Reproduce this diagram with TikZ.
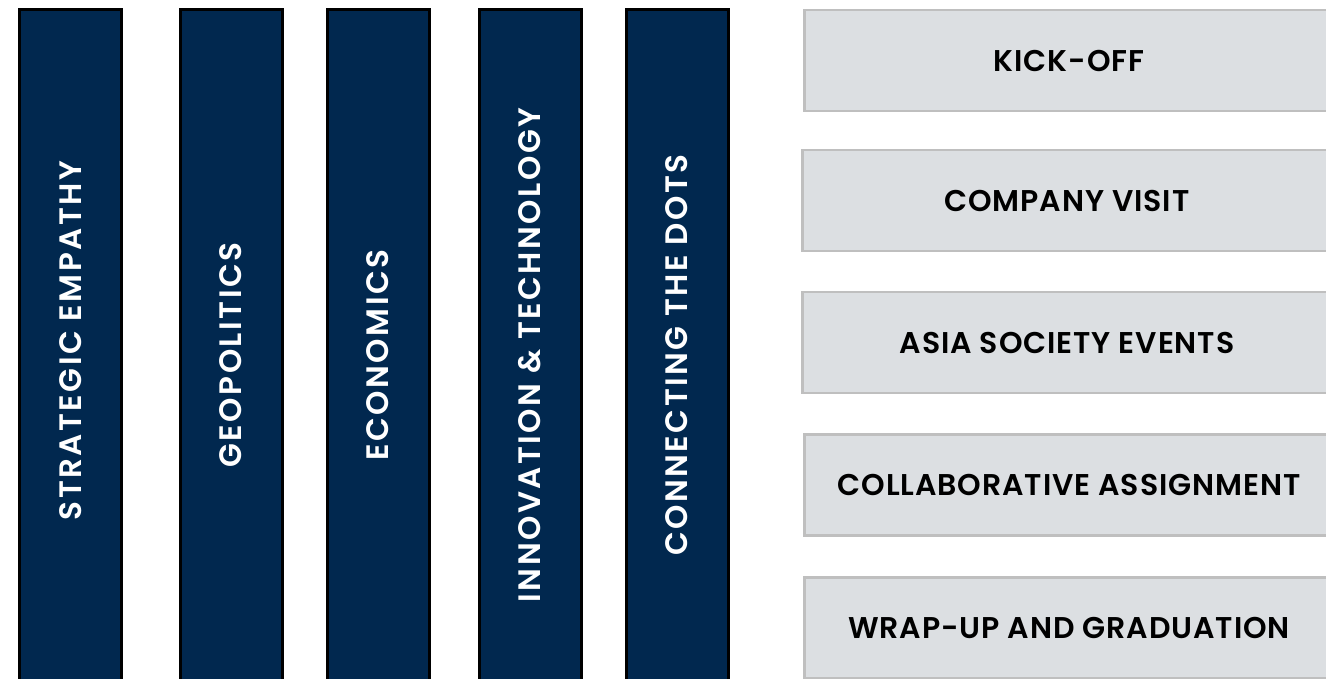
\documentclass[tikz,border=0pt]{standalone}
\usepackage{fontspec}
\setmainfont{Poppins}[BoldFont={Poppins SemiBold}]
\usepackage{tikz}
\usepackage{xcolor}
\definecolor{NavyCol}{HTML}{01284F}
\definecolor{GrayFill}{HTML}{DCDFE2}
\definecolor{GrayLine}{HTML}{BFBFBF}
\newcommand\colse{STRATEGIC EMPATHY}
\newcommand\colgeo{GEOPOLITICS}
\newcommand\coleco{ECONOMICS}
\newcommand\colinn{INNOVATION \& TECHNOLOGY}
\newcommand\colctd{CONNECTING THE DOTS}
\newcommand\boxko{KICK-OFF}
\newcommand\boxcv{COMPANY VISIT}
\newcommand\boxas{ASIA SOCIETY EVENTS}
\newcommand\boxca{COLLABORATIVE ASSIGNMENT}
\newcommand\boxwg{WRAP-UP AND GRADUATION}
\tikzstyle{mycolstyle} = [rectangle, rotate=90, minimum width=691pt, minimum height=102pt, inner sep=0pt, font=\fontsize{31}{36}\selectfont\bfseries\addfontfeatures{LetterSpace=8}]
\tikzstyle{cn} = [mycolstyle, draw=black, line width=3pt, fill=NavyCol, text=white]
\tikzstyle{gn} = [rectangle, minimum width=529pt, minimum height=101pt, inner sep=0pt, draw=GrayLine, line width=2.5pt, fill=GrayFill, text=black, font=\fontsize{30}{36}\selectfont\bfseries\addfontfeatures{LetterSpace=3}]
\tikzset{x=1pt, y=-1pt}

\begin{document}
\begin{tikzpicture}
\useasboundingbox (0, 0) rectangle (1326, 678);
\node[cn] (se) at (70.5, 355) {\hspace*{29pt}\colse};
\node[cn] (geo) at (231, 355) {\colgeo};
\node[cn] (eco) at (378, 355) {\coleco};
\node[cn] (inn) at (530, 355) {\colinn};
\node[cn] (ctd) at (677, 355) {\colctd};
\node[gn] (ko) at (1069, 60.5) {\boxko};
\node[gn] (cv) at (1067, 200.5) {\boxcv};
\node[gn] (as) at (1067, 342.5) {\boxas};
\node[gn] (ca) at (1069, 485) {\boxca};
\node[gn] (wg) at (1069, 628) {\boxwg};
\end{tikzpicture}
\end{document}
